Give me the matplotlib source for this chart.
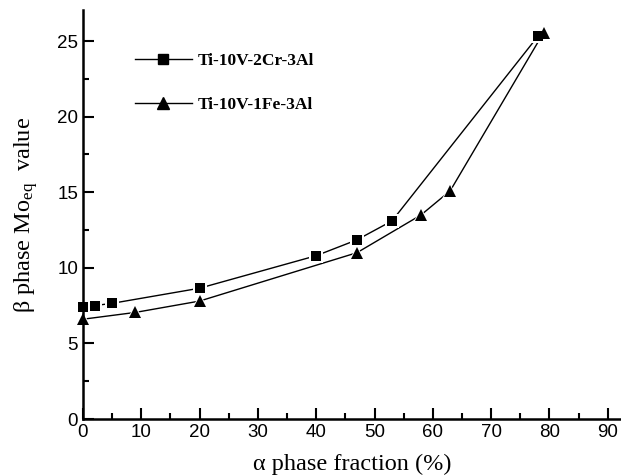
import matplotlib
matplotlib.use("Agg")
import matplotlib.pyplot as plt
from matplotlib.ticker import MultipleLocator
from matplotlib.lines import Line2D

plt.rcParams['mathtext.fontset'] = 'custom'
plt.rcParams['mathtext.rm'] = 'Liberation Serif'
plt.rcParams['mathtext.it'] = 'Liberation Serif:italic'

cr_x = [0, 2, 5, 20, 40, 47, 53, 78]
cr_y = [7.4, 7.5, 7.65, 8.65, 10.8, 11.85, 13.1, 25.3]
fe_x = [0, 9, 20, 47, 58, 63, 79]
fe_y = [6.6, 7.05, 7.8, 11.0, 13.5, 15.1, 25.55]
labels = ["Ti-10V-2Cr-3Al", "Ti-10V-1Fe-3Al"]

fig = plt.figure(figsize=(6.21, 4.75), dpi=100)
W, H = 621, 475
x0, x1, ytop, ybot = 83, 621, 10, 419
ax = fig.add_axes([x0 / W, 1 - ybot / H, (x1 - x0) / W, (ybot - ytop) / H])

for xs, ys, m, ms in [(cr_x, cr_y, 's', 7.5), (fe_x, fe_y, '^', 9)]:
    ax.plot(xs, ys, '-', color='black', lw=1.0, zorder=1)
    ax.plot(xs, ys, m, color='white', ms=ms + 3, mew=0, zorder=2, clip_on=False)
    ax.plot(xs, ys, m, color='black', ms=ms, mew=0, zorder=3, clip_on=False)

ax.set_xlim(0, (x1 - x0) / 5.83)
ax.set_ylim(0, (ybot - ytop) / 15.12)
ax.xaxis.set_minor_locator(MultipleLocator(5))
ax.yaxis.set_minor_locator(MultipleLocator(2.5))
ax.set_xticks(range(0, 91, 10))
ax.set_yticks(range(0, 26, 5))
for s in ['top', 'right']:
    ax.spines[s].set_visible(False)
for s in ['left', 'bottom']:
    ax.spines[s].set_linewidth(1.8)
ax.tick_params(which='major', direction='in', length=8, width=1.5, labelsize=13.5)
ax.tick_params(which='minor', direction='in', length=4, width=1.5)
for lab in ax.get_xticklabels() + ax.get_yticklabels():
    lab.set_family('Liberation Sans')

ax.set_xlabel("α phase fraction (%)", family='Liberation Serif', fontsize=17.5, labelpad=9)
ax.set_ylabel(r"β phase Mo$_{\mathrm{eq}}$  value", family='Liberation Serif', fontsize=17.5, labelpad=12)

handles = [Line2D([], [], color='black', lw=1.0, marker='s', ms=7.5),
           Line2D([], [], color='black', lw=1.0, marker='^', ms=9)]
ax.legend(handles, labels, loc='upper left', bbox_to_anchor=(0.067, 0.933), frameon=False,
          handlelength=3.3, handletextpad=0.35, labelspacing=1.6,
          prop={'family': 'Liberation Serif', 'weight': 'bold', 'size': 12.5})

fig.savefig("out.png", dpi=100)
